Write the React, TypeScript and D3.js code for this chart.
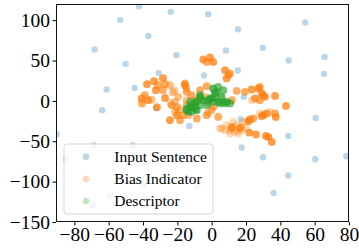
import React, { useEffect, useRef } from "react";
import * as d3 from "d3";

// [x, y] for the input sentences
const inputSentence = [
  [-42.4, 117.3], [-23.9, 110.3], [-53.3, 100.4], [-36.9, 80.5], [-68.2, 63.7],
  [-20.6, 56.6], [-50.1, 45.8], [-30.9, 34.7], [-61.2, 14.1], [-44.9, 16.1],
  [-63.8, -11.5], [-32.3, -9], [-2.0, 107.4], [15.3, 88.8], [54.5, 97.1],
  [8.3, 62.5], [29.7, 65.7], [44.9, 50.1], [65.8, 54.5], [65.4, 33.5],
  [15.2, 37.6], [-4.5, 31.5], [18.6, 5.0], [60.6, -21.1], [16.9, -22.7],
  [-13, -31], [44.6, -43.4], [17.5, -57.7], [29.9, -69.8], [60.4, -72.2],
  [78.4, -68.5], [44.6, -92.5], [36.1, -114], [-8.4, -106.5], [-90.2, -41.3],
  [-68.6, -54.9], [-46.0, -54.9], [-84.9, -72.6], [-39.9, -104.5], [-59.3, -117.7],
  [-69.2, -129.2],
];

// [x, y, number of stacked points]
const biasIndicator = [
  [-37.7, 20.7, 4], [-33.6, 24.4, 4], [-31.3, 19.5, 3], [-28.4, 28.1, 4], [-27.2, 20.7, 3],
  [-32.5, 13.3, 4], [-28.4, 13.3, 3], [-24.3, 19.5, 2], [-22.6, 10.8, 2], [-21.4, 13.3, 1],
  [-40.8, 3.0, 4], [-38.9, 7.1, 3], [-37.1, 0.9, 4], [-40.6, -3.2, 3], [-35.0, 1.5, 2],
  [-27.2, 3.7, 4], [-31.9, -7.8, 4], [-23.3, -5.3, 3], [-20.2, -7.8, 3], [-24.3, -2.0, 1],
  [-21.4, -1.2, 2], [-19.5, 5.0, 2], [-24.3, -23.9, 4], [-20.2, -17.7, 4], [-18.5, -23.9, 3],
  [-21.4, -13.6, 2], [-18.5, -11.5, 2], [-14.6, -5.3, 2], [-15.6, 19.5, 4], [-14.6, 11.2, 3],
  [-15.6, 21.6, 3], [-14.6, 15.4, 2],
  [-4.9, 51.3, 4], [-1.0, 53.8, 4], [0.9, 48.3, 4], [-2.9, 48.3, 3], [7.8, 38.0, 4],
  [10.7, 34.0, 3], [8.7, 27.8, 4], [9.7, 31.8, 3], [-6.8, 13.3, 3], [-2.9, 18.2, 3],
  [14.6, 12.4, 3], [19.4, 11.2, 3], [11.7, 0.9, 3], [0.9, -7.4, 3], [-2.9, -17.7, 3],
  [3.8, -19.8, 3], [-2.0, -14.6, 2], [0, -11.5, 2], [-16.6, -17.7, 3], [-8.7, -21.8, 3],
  [-13.6, -17.7, 2], [-11.7, 7.1, 3], [-9.7, 0.9, 2], [-14.6, 0.9, 2], [-3.9, 5.0, 2],
  [23.3, 14.1, 4], [27.2, 15.4, 4], [28.1, 17.3, 3], [29.1, 9.2, 4], [25.2, 3.0, 4],
  [28.1, 0.9, 3], [31.1, 5.0, 4], [23.3, 0.9, 1], [30.1, 7.1, 3], [36.9, 6.2, 4],
  [43.3, -6.2, 4], [30.1, -17.7, 4], [32.1, -15.6, 4], [29.1, -19.0, 3], [37.3, -19.8, 4],
  [36.9, -15.6, 3], [34.0, -13.6, 1], [28.1, -15.6, 1], [22.3, -23.0, 4], [24.2, -21.8, 3],
  [21.3, -25.2, 4],
  [4.8, -34.2, 1], [5.8, -34.2, 1], [8.7, -30.1, 1], [11.7, -32.2, 2], [12.6, -26.0, 1],
  [14.6, -30.1, 1], [15.5, -36.3, 1], [17.5, -32.2, 1], [20.4, -34.2, 1], [18.4, -26.0, 1],
  [10.7, -36.3, 1], [7.8, -36.3, 1], [13.6, -38.4, 1], [11.7, -33.5, 4], [16.5, -33.5, 4],
  [10.7, -40.4, 1], [15.5, -40.4, 1], [17.5, -36.3, 1], [21.9, -39.2, 4], [25.8, -41.6, 4],
  [31.6, -43.4, 4], [33.0, -44.6, 4], [35.0, -50.8, 4],
];

// [x, y, number of stacked points]
const descriptor = [
  [-14.6, -9.4, 3], [-10.7, -7.4, 4], [-12.6, -1.2, 3], [-6.8, 7.1, 3], [-4.9, 0.9, 4],
  [-8.7, -1.2, 4], [0.9, 15.4, 4], [3.8, 17.3, 3], [6.8, 13.3, 3], [1.9, 9.2, 4],
  [5.8, 5.0, 4], [-1.0, 3.0, 4], [3.8, -1.2, 4], [8.7, -1.2, 4], [10.7, -3.2, 3],
  [-2.9, -5.3, 3], [-13.6, -13.6, 3], [-8.7, -11.5, 4], [-11.7, -5.3, 3], [2.9, 11.2, 4],
  [-6.8, 5.0, 3], [7.8, -3.2, 3], [0.9, -1.2, 3], [-12.6, -7.4, 4], [-9.7, -9.4, 3],
  [-14.6, -11.5, 3], [-6.8, -5.3, 3], [-2.0, 0.9, 3], [-9.7, -1.2, 3], [-6.8, 3.0, 2],
  [0, 3.0, 3], [4.8, -3.2, 3], [6.8, -1.2, 2], [-11.7, -13.6, 3], [-2.0, -2.0, 2],
  [2.0, 4.0, 3],
];

const seriesNames = ["Input Sentence", "Bias Indicator", "Descriptor"];
const xTicks = [-80, -60, -40, -20, 0, 20, 40, 60, 80];
const yTicks = [-150, -100, -50, 0, 50, 100];

const colors = ["#1f77b4", "#ff7f0e", "#2ca02c"];
const font = "'Liberation Serif', 'Times New Roman', serif";

const App = () => {
  const xAxisRef = useRef();
  const yAxisRef = useRef();

  const width = 359;
  const height = 251;
  const margin = { top: 4, right: 10, bottom: 29, left: 56 };

  const xScale = d3
    .scaleLinear()
    .domain([-90.7, 80])
    .range([margin.left, width - margin.right]);

  const yScale = d3
    .scaleLinear()
    .domain([-150, 120])
    .range([height - margin.bottom, margin.top]);

  const alpha = 0.3;
  const stacked = (n) => 1 - Math.pow(1 - alpha, n);

  useEffect(() => {
    const xAxis = d3.axisBottom(xScale).tickValues(xTicks).tickSize(3.5).tickPadding(2);
    const yAxis = d3.axisLeft(yScale).tickValues(yTicks).tickSize(3.5).tickPadding(2.5);

    const gx = d3.select(xAxisRef.current);
    gx.selectAll("*").remove();
    gx.call(xAxis);
    gx.select(".domain").remove();
    gx.selectAll("text").style("font-family", font).style("font-size", "19.5px").style("fill", "#000");

    const gy = d3.select(yAxisRef.current);
    gy.selectAll("*").remove();
    gy.call(yAxis);
    gy.select(".domain").remove();
    gy.selectAll("text").style("font-family", font).style("font-size", "19.5px").style("fill", "#000");
  }, []);

  const r = 3.2;
  const plotW = width - margin.left - margin.right;
  const plotH = height - margin.top - margin.bottom;

  return (
    <div style={{ position: "fixed", left: 0, top: 0 }}>
      <svg width={width} height={height} style={{ display: "block", background: "#fff" }}>
        <defs>
          <clipPath id="plot-clip">
            <rect x={margin.left} y={margin.top} width={plotW} height={plotH} />
          </clipPath>
        </defs>
        <g clipPath="url(#plot-clip)">
          {inputSentence.map((d, i) => (
            <circle key={"a" + i} cx={xScale(d[0])} cy={yScale(d[1])} r={r}
              fill={colors[0]} fillOpacity={alpha} />
          ))}
          {biasIndicator.map((d, i) => (
            <circle key={"b" + i} cx={xScale(d[0])} cy={yScale(d[1])} r={3.9}
              fill={colors[1]} fillOpacity={stacked(d[2])} />
          ))}
          {descriptor.map((d, i) => (
            <circle key={"c" + i} cx={xScale(d[0])} cy={yScale(d[1])} r={3.9}
              fill={colors[2]} fillOpacity={stacked(d[2])} />
          ))}
        </g>
        <rect x={margin.left + 0.5} y={margin.top + 0.5} width={plotW - 1} height={plotH - 1}
          fill="none" stroke="#111" strokeWidth={1} />
        <g ref={xAxisRef} transform={`translate(0,${height - margin.bottom})`} />
        <g ref={yAxisRef} transform={`translate(${margin.left},0)`} />

        {/* legend */}
        <rect x={64} y={144} width={149} height={70} rx={3}
          fill="#fff" fillOpacity={0.8} stroke="#d6d6d6" strokeWidth={1} />
        {seriesNames.map((name, i) => (
          <g key={name} transform={`translate(86,${156.7 + i * 22.2})`}>
            <circle r={r} fill={colors[i]} fillOpacity={alpha} />
            <text x={28.3} y={5.3} fontFamily={font} fontSize={15.5} fill="#000">{name}</text>
          </g>
        ))}
      </svg>
    </div>
  );
};

export default App;
